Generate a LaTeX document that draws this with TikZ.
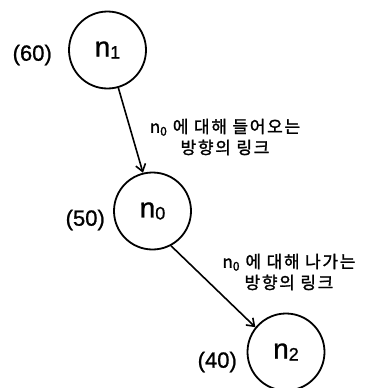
\documentclass[tikz,border=0pt]{standalone}
\usepackage{fontspec}
\setmainfont[FakeBold=1]{Liberation Sans}
\newfontfamily\kofont[LetterSpace=10,FakeBold=1.5]{Noto Sans CJK KR}
\usetikzlibrary{arrows.meta}

\newcommand{\nsub}[1]{n\raisebox{-2pt}{\fontsize{18}{18}\selectfont #1}}

\begin{document}
\begin{tikzpicture}[x=1pt, y=-1pt,
    state/.style={draw, circle, line width=1.8pt, minimum size=77pt, inner sep=0pt,
        font=\fontsize{28}{30}\selectfont},
    cost/.style={anchor=east, inner sep=0pt, font=\fontsize{22}{24}\selectfont},
    linklabel/.style={align=center, inner sep=0pt, font=\kofont\fontsize{17}{21}\selectfont},
    link/.style={-{Straight Barb[length=7pt,width=10pt,line width=1.6pt]}, line width=1.6pt}]
    \useasboundingbox (0,0) rectangle (365,388);
    \node[state] (n1) at (107.5,50) {\nsub{1}};
    \node[state] (n0) at (152.5,211) {\nsub{0}};
    \node[state] (n2) at (286,352) {\nsub{2}};
    \node[cost] (c1) at (52,55) {(60)};
    \node[cost] (c0) at (105,220) {(50)};
    \node[cost] (c2) at (237,362) {(40)};
    \draw[link] (n1.-74) -- (n0.104);
    \draw[link] (n0.-62) -- (n2.141);
    \node[linklabel] (in) at (225,137) {n\textsubscript{0} 에 대해 들어오는\\방향의 링크};
    \node[linklabel] (out) at (289,272) {n\textsubscript{0} 에 대해 나가는\\방향의 링크};
\end{tikzpicture}
\end{document}
